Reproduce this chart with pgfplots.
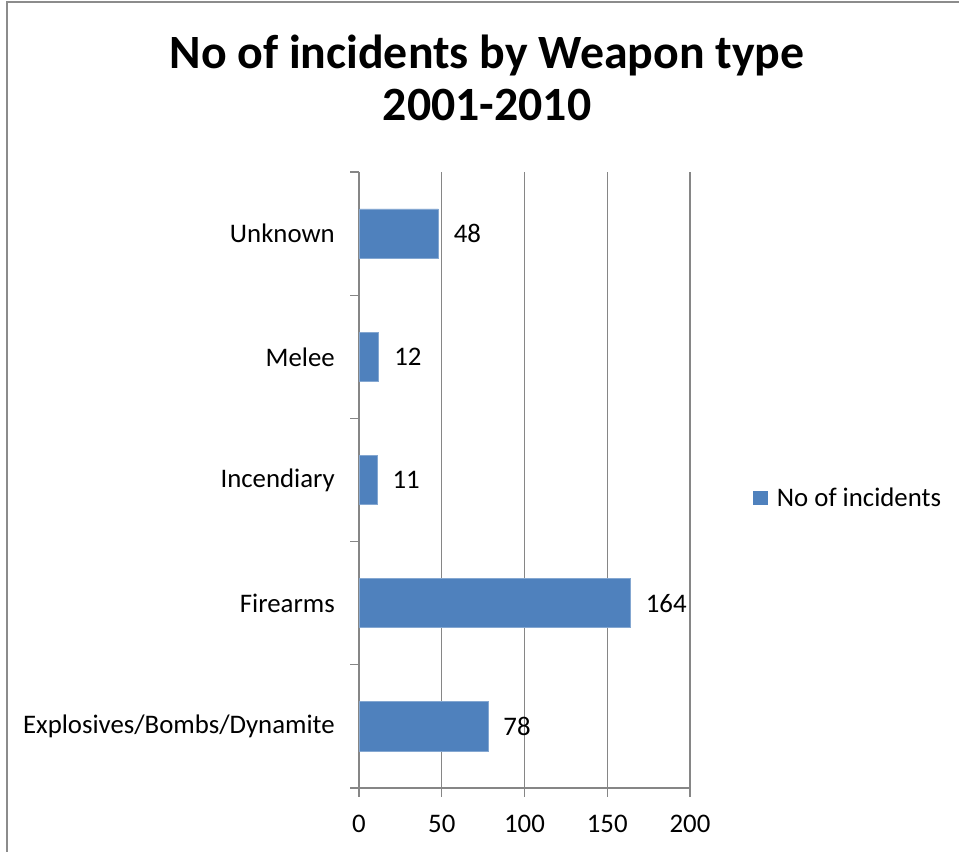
\documentclass[border=0pt]{standalone}
\usepackage{pgfplots}
\pgfplotsset{compat=1.18}
\usepackage{fontspec}
\setmainfont{Carlito}
\definecolor{barblue}{HTML}{4F81BD}
\definecolor{axisgray}{HTML}{868686}
\definecolor{framegray}{HTML}{8C8C8C}
\newcommand{\bodyfont}{\fontsize{26.8bp}{32bp}\selectfont}
\newcommand{\titlefont}{\fontsize{47.8bp}{57bp}\selectfont\bfseries}
\begin{document}
\begin{tikzpicture}[x=1bp,y=1bp]
\useasboundingbox (0,0) rectangle (959,852);
% chart area frame (left and top edges)
\draw[framegray, line width=1.5bp] (7,0) -- (7,850) -- (959,850);
% title
\node[font=\titlefont, anchor=base] at (487,783) {No of incidents by Weapon type};
\node[font=\titlefont, anchor=base] at (487,731) {2001-2010};
\begin{axis}[
  at={(359bp,64bp)}, anchor=south west,
  scale only axis, width=331bp, height=616bp,
  xbar, bar width=0.4,
  xmin=0, xmax=200, ymin=-0.5, ymax=4.5,
  axis lines*=left,
  axis line style={axisgray, line width=1.3bp},
  xtick={0,50,...,200},
  xmajorgrids, grid style={axisgray, line width=1.3bp},
  tick align=outside, major tick length=9bp,
  tick style={axisgray, line width=1.3bp},
  ytick={-0.5,0.5,...,4.5}, yticklabels={},
  extra y ticks={0,1,2,3,4},
  extra y tick labels={Explosives/Bombs/Dynamite,Firearms,Incendiary,Melee,Unknown},
  extra y tick style={tick style={draw=none}, grid=none},
  /pgf/number format/assume math mode=true,
  ticklabel style={font=\bodyfont, text=black},
  y tick label style={anchor=east, inner sep=0pt, xshift=-15bp},
  x tick label style={anchor=base, inner sep=0pt, yshift=-35bp},
  nodes near coords,
  nodes near coords style={anchor=west, inner sep=0pt, xshift=15bp,
    font=\bodyfont, text=black},
  legend style={draw=none, at={(1.19,0.471)}, anchor=west,
    font=\bodyfont, inner sep=0pt, column sep=7bp},
  legend cell align=left,
  legend image code/.code={\fill[barblue] (0bp,-6.5bp) rectangle (14bp,6.5bp);},
]
\addplot[fill=barblue, draw=barblue!70!white, line width=0.8bp]
  coordinates {(78,0) (164,1) (11,2) (12,3) (48,4)};
\addlegendentry{No of incidents}
\end{axis}
\end{tikzpicture}
\end{document}
